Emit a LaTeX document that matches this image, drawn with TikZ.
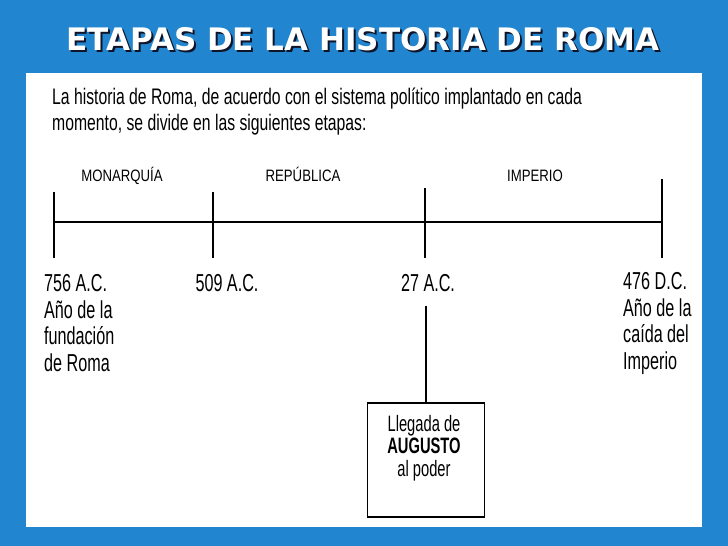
\documentclass[tikz,border=0pt]{standalone}
\usepackage{fontspec}
\setmainfont{Liberation Sans}[FakeStretch=0.8]
\newfontfamily\estrecha{Liberation Sans}[FakeStretch=0.66]
\newfontfamily\parrafo{Liberation Sans}[FakeStretch=0.7]
\newfontfamily\titlefont{DejaVu Sans}

\definecolor{fondo}{RGB}{33,134,207}
\definecolor{sombra}{RGB}{15,20,40}

\begin{document}
\begin{tikzpicture}[x=1pt,y=-1pt,
	titulo/.style={font=\titlefont\bfseries\fontsize{31}{31}\selectfont,inner sep=0pt,anchor=base},
	etapa/.style={font=\fontsize{16.5}{18}\selectfont,inner sep=0pt,anchor=base},
	fecha/.style={font=\estrecha\fontsize{24.5}{26.7}\selectfont,inner sep=0pt,align=left},
	marca/.style={line width=1.2pt}]
	\useasboundingbox (0,0) rectangle (728,546);
	\fill[fondo] (0,0) rectangle (728,546);
	\fill[white] (26,73) rectangle (702,527);

	% titulo con sombra
	\node[titulo,text=sombra] (sombra) at (365,52) {ETAPAS DE LA HISTORIA DE ROMA};
	\node[titulo,text=white]  (titulo) at (363,50) {ETAPAS DE LA HISTORIA DE ROMA};

	\node[font=\parrafo\fontsize{22.5}{26}\selectfont,inner sep=0pt,align=left,anchor=north west] (intro) at (52,88)
		{La historia de Roma, de acuerdo con el sistema político implantado en cada\\
		 momento, se divide en las siguientes etapas:};

	% eje del tiempo
	\coordinate (a) at (54,222);
	\coordinate (b) at (213,222);
	\coordinate (c) at (425,222);
	\coordinate (d) at (662,222);
	\draw[marca] (a) -- (d);
	\draw[marca] ([yshift=30pt]a) -- ([yshift=-36pt]a);
	\draw[marca] ([yshift=30pt]b) -- ([yshift=-36pt]b);
	\draw[marca] ([yshift=34pt]c) -- ([yshift=-36pt]c);
	\draw[marca] ([yshift=43pt]d) -- ([yshift=-36pt]d);

	\node[etapa] (monarquia) at (122,181) {MONARQUÍA};
	\node[etapa] (republica) at (303,181) {REPÚBLICA};
	\node[etapa] (imperio)   at (535,181) {IMPERIO};

	\node[fecha,anchor=north west] (d756) at (44,274) {756 A.C.\\Año de la\\fundación\\de Roma};
	\node[fecha,anchor=north]      (d509) at (227,274) {509 A.C.};
	\node[fecha,anchor=north]      (d27)  at (428,274) {27 A.C.};
	\node[fecha,anchor=north west] (d476) at (623,272) {476 D.C.\\Año de la\\caída del\\Imperio};

	\node[draw=black,line width=1.2pt,minimum width=117pt,minimum height=114pt] (augusto) at (426,460) {};
	\node[font=\estrecha\fontsize{22.3}{22.5}\selectfont,inner sep=0pt,align=center] (augustotxt) at (424,448)
		{Llegada de\\\textbf{AUGUSTO}\\al poder};
	\draw[marca,shorten <=14pt] (d27.south -| augusto.north) -- (augusto.north);
\end{tikzpicture}
\end{document}
